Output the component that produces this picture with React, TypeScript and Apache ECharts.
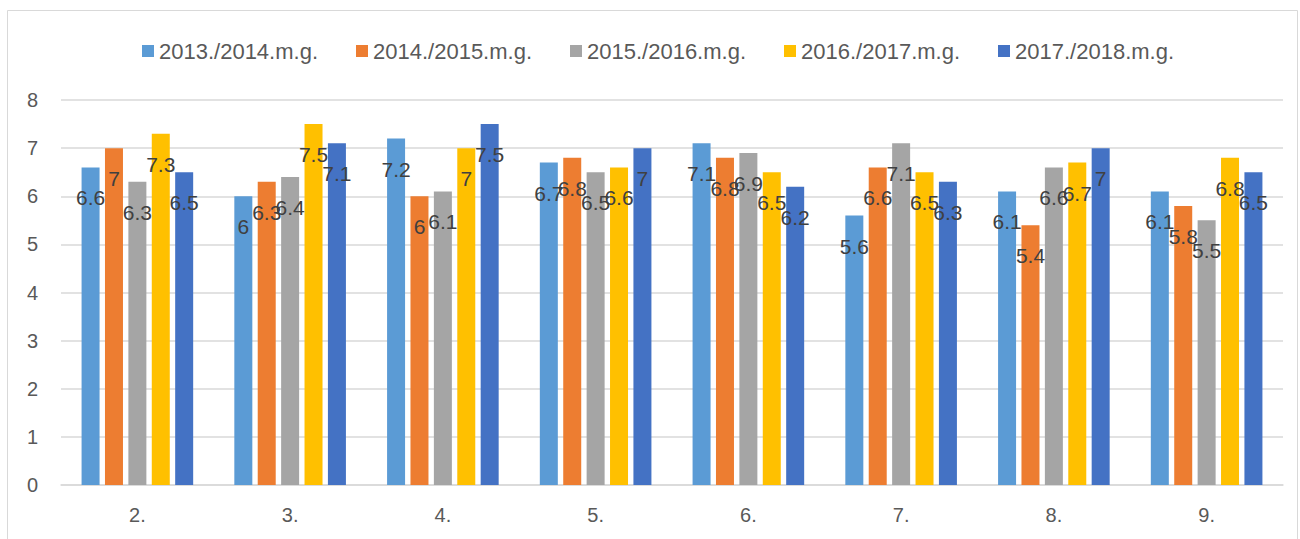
import React, { useEffect, useRef } from "react";
import * as echarts from "echarts";

const categories = ["2.", "3.", "4.", "5.", "6.", "7.", "8.", "9."];
const seriesNames = ["2013./2014.m.g.", "2014./2015.m.g.", "2015./2016.m.g.", "2016./2017.m.g.", "2017./2018.m.g."];
const s2013 = [6.6, 6, 7.2, 6.7, 7.1, 5.6, 6.1, 6.1];
const s2014 = [7, 6.3, 6, 6.8, 6.8, 6.6, 5.4, 5.8];
const s2015 = [6.3, 6.4, 6.1, 6.5, 6.9, 7.1, 6.6, 5.5];
const s2016 = [7.3, 7.5, 7, 6.6, 6.5, 6.5, 6.7, 6.8];
const s2017 = [6.5, 7.1, 7.5, 7, 6.2, 6.3, 7, 6.5];
const colors = ["#5B9BD5", "#ED7D31", "#A5A5A5", "#FFC000", "#4472C4"];

export default function App() {
  const ref = useRef<HTMLDivElement>(null);
  useEffect(() => {
    if (!ref.current) return;
    const chart = echarts.init(ref.current, null, { renderer: "svg" });
    const font = "Liberation Sans, Arial, sans-serif";
    const data = [s2013, s2014, s2015, s2016, s2017];
    chart.setOption({
      animation: false,
      textStyle: { fontFamily: font },
      graphic: [
        {
          type: "rect",
          shape: { x: 7.5, y: 10.5, width: 1290, height: 540 },
          style: { fill: "none", stroke: "#D9D9D9", lineWidth: 1 },
          silent: true,
        },
      ],
      legend: {
        top: 35,
        left: 137,
        itemWidth: 12,
        itemHeight: 12,
        itemGap: 38,
        icon: "rect",
        textStyle: { color: "#595959", fontSize: 22, fontFamily: font },
        data: seriesNames,
      },
      grid: { left: 61, right: 17, top: 100, bottom: 54, containLabel: false },
      xAxis: {
        type: "category",
        data: categories,
        axisLine: { lineStyle: { color: "#D9D9D9", width: 1.5 } },
        axisTick: { show: false },
        axisLabel: { color: "#595959", fontSize: 20, margin: 20, fontFamily: font },
      },
      yAxis: {
        type: "value",
        min: 0,
        max: 8,
        interval: 1,
        axisLine: { show: false },
        axisTick: { show: false },
        splitLine: { lineStyle: { color: "#D9D9D9", width: 1.5 } },
        axisLabel: { color: "#595959", fontSize: 20, margin: 23, fontFamily: font },
      },
      series: seriesNames.map((name, i) => ({
        name,
        type: "bar",
        data: data[i],
        barWidth: 18,
        barGap: "30%",
        itemStyle: { color: colors[i] },
        label: {
          show: true,
          position: "insideTop",
          distance: 20,
          color: "#404040",
          fontSize: 21,
          fontFamily: font,
        },
      })),
    });
    return () => chart.dispose();
  }, []);
  return (
    <div
      ref={ref}
      style={{ position: "absolute", left: 0, top: 0, width: 1300, height: 539 }}
    />
  );
}
